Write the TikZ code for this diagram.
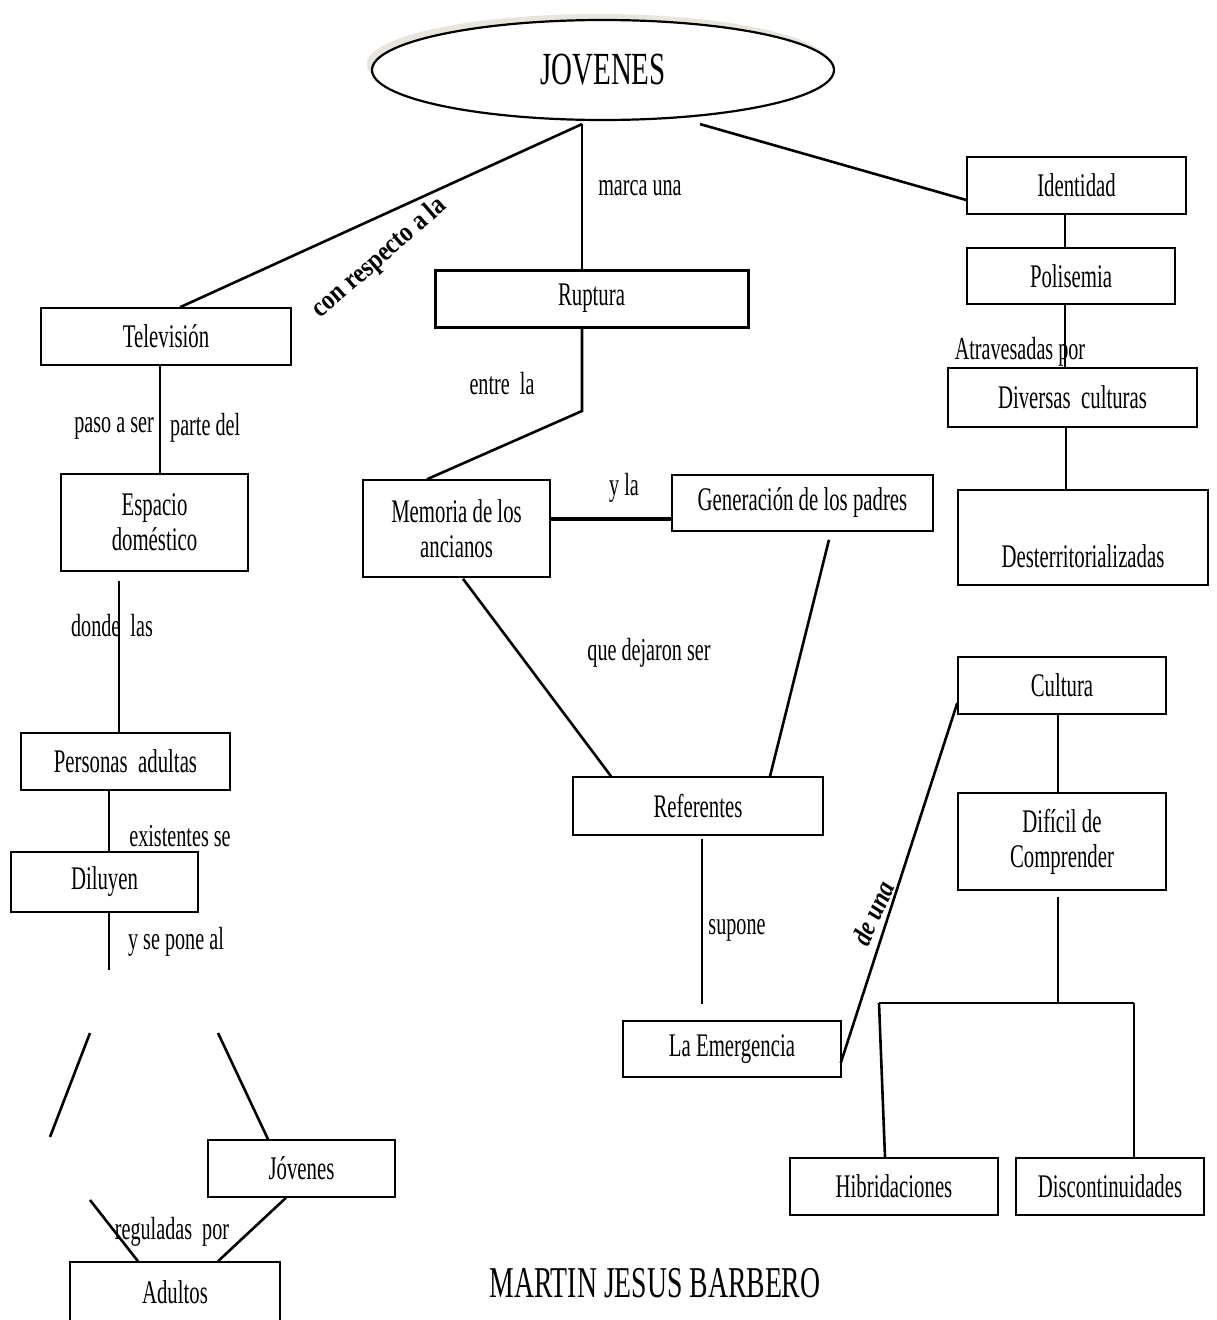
\documentclass[tikz,border=0pt]{standalone}
\usepackage{fontspec}
\setmainfont[FakeStretch=0.63]{Liberation Serif}
\newfontfamily\rotfont[FakeStretch=0.85]{Liberation Serif}
\usetikzlibrary{shapes.geometric}
\begin{document}
\begin{tikzpicture}[x=1pt,y=-1pt,
  box/.style={draw, line width=1.5, inner sep=0, align=center, font=\fontsize{33}{35}\selectfont},
  lbl/.style={inner sep=0, font=\fontsize{32}{34}\selectfont},
  rotlbl/.style={inner sep=0, font=\rotfont\fontsize{28}{30}\selectfont\bfseries},
  con/.style={line width=2.6},
  thinline/.style={line width=1.4}]
\useasboundingbox (0,0) rectangle (1216,1320);
% title ellipse
\node[ellipse, fill={rgb,255:red,232;green,230;blue,220}, minimum width=462, minimum height=100, inner sep=0] (jovsh) at (598,64) {};
\node[ellipse, draw, fill=white, line width=2.2, minimum width=462, minimum height=100, inner sep=0, font=\fontsize{46}{48}\selectfont] (jov) at (603,70) {JOVENES};
% boxes
\node[box, minimum width=250, minimum height=57] (tv) at (166,336.5) {Televisión};
\node[box, line width=3, minimum width=313, minimum height=57] (rup) at (591.5,298.5) {Ruptura};
\node[box, minimum width=219, minimum height=57] (ide) at (1076.5,185.5) {Identidad};
\node[box, minimum width=208, minimum height=56] (pol) at (1071,276) {Polisemia};
\node[box, minimum width=249, minimum height=59] (div) at (1072.5,397.5) {Diversas\ \ culturas};
\node[box, minimum width=250, minimum height=95] (des) at (1083,537.5) {\strut\\Desterritorializadas};
\node[box, minimum width=187, minimum height=97] (esp) at (154.5,522.5) {Espacio\\doméstico};
\node[box, minimum width=209, minimum height=57] (per) at (125.5,761.5) {Personas\ \ adultas};
\node[box, minimum width=187, minimum height=60] (dil) at (104.5,882) {Diluyen};
\node[box, minimum width=187, minimum height=57] (jvn) at (301.5,1168.5) {Jóvenes};
\node[box, minimum width=210, minimum height=60] (adu) at (175,1292) {Adultos};
\node[box, minimum width=187, minimum height=97] (mem) at (456.5,528.5) {Memoria de los\\ancianos};
\node[box, minimum width=261, minimum height=56] (gen) at (802.5,503) {Generación de los padres};
\node[box, minimum width=250, minimum height=58] (ref) at (698,806) {Referentes};
\node[box, minimum width=218, minimum height=56] (eme) at (732,1049) {La Emergencia};
\node[box, minimum width=208, minimum height=57] (cul) at (1062,685.5) {Cultura};
\node[box, minimum width=208, minimum height=97] (dif) at (1062,841.5) {Difícil de\\Comprender};
\node[box, minimum width=208, minimum height=57] (hib) at (894,1186.5) {Hibridaciones};
\node[box, minimum width=188, minimum height=57] (dis) at (1110,1186.5) {Discontinuidades};
% free coordinates
\coordinate (dilend) at (109,970);
\coordinate (la1) at (90,1033);
\coordinate (la2) at (50,1137);
\coordinate (rb1) at (218,1033);
\coordinate (lb1) at (90,1200);
\coordinate (rupbend) at (582,411);
\coordinate (hub) at (1058,1003);
\coordinate (hubl) at (879,1003);
\coordinate (hubr) at (1134,1003);
% connectors
\draw[con] ([xshift=-21,yshift=-3]jov.south) -- ([xshift=14]tv.north);
\draw[con] ([xshift=-21,yshift=-3]jov.south) -- ([xshift=-9.5]rup.north);
\draw[con] ([xshift=97,yshift=-3]jov.south) -- ([yshift=-14.5]ide.west);
\draw[con] ([xshift=-11.5]ide.south) -- ([xshift=-6]pol.north);
\draw[con] ([xshift=-6]pol.south) -- ([xshift=-7.5]div.north);
\draw[thinline] ([xshift=-6.5]div.south) -- ([xshift=-17]des.north);
\draw[con] ([xshift=-6]tv.south) -- ([xshift=5.5]esp.north);
\draw[con] ([xshift=-35.5,yshift=-9]esp.south) -- ([xshift=-6.5]per.north);
\draw[con] ([xshift=-16.5]per.south) -- ([xshift=4.5]dil.north);
\draw[con] ([xshift=4.5]dil.south) -- (dilend);
\draw[con] (la1) -- (la2);
\draw[con] (rb1) -- ([xshift=-33.5]jvn.north);
\draw[con] (lb1) -- ([xshift=-37]adu.north);
\draw[con] ([xshift=-15.5]jvn.south) -- ([xshift=43]adu.north);
\draw[con] ([xshift=-9.5]rup.south) -- (rupbend) -- ([xshift=-29.5]mem.north);
\draw[line width=3.6] ([yshift=9.5]mem.east) -- ([yshift=-16]gen.west);
\draw[con] ([xshift=6.5,yshift=-1]mem.south) -- ([xshift=-87]ref.north);
\draw[con] ([xshift=26.5,yshift=-8]gen.south) -- ([xshift=72]ref.north);
\draw[thinline] ([xshift=4,yshift=-3]ref.south) -- ([xshift=-30,yshift=16]eme.north);
\draw[con] ([xshift=-1,yshift=-14]eme.east) -- ([yshift=-17.5]cul.west);
\draw[thinline] ([xshift=-4]cul.south) -- ([xshift=-4]dif.north);
\draw[con] ([xshift=-4,yshift=-6]dif.south) -- (hub);
\draw[con] (hubl) -- (hubr);
\draw[con] (hubl) -- ([xshift=-9]hib.north);
\draw[con] (hubr) -- ([xshift=24]dis.north);
% labels
\node[lbl] (l1) at (640,188) {marca una};
\node[rotlbl, rotate=41] (l2) at (380,258) {con respecto a la};
\node[lbl] (l3) at (1020,352) {Atravesadas por};
\node[lbl, anchor=east] (l4) at (154,428) {paso a ser};
\node[lbl, anchor=west] (l5) at (170,428) {parte del};
\node[lbl] (l6) at (112,626) {donde\ \ las};
\node[lbl] (l7) at (180,836) {existentes se};
\node[lbl] (l8) at (176,942) {y se pone al};
\node[lbl] (l9) at (172,1232) {reguladas\ \ por};
\node[lbl] (l10) at (502,384) {entre\ \ la};
\node[lbl] (l11) at (624,488) {y la};
\node[lbl] (l12) at (649,653) {que dejaron ser};
\node[lbl] (l13) at (737,930) {supone};
\node[rotlbl, rotate=66, font=\rotfont\fontsize{28}{30}\selectfont\bfseries\itshape] (l14) at (873,913) {de una};
\node[inner sep=0, font=\fontsize{44}{46}\selectfont] (auth) at (655,1283) {MARTIN JESUS BARBERO};
\end{tikzpicture}
\end{document}
